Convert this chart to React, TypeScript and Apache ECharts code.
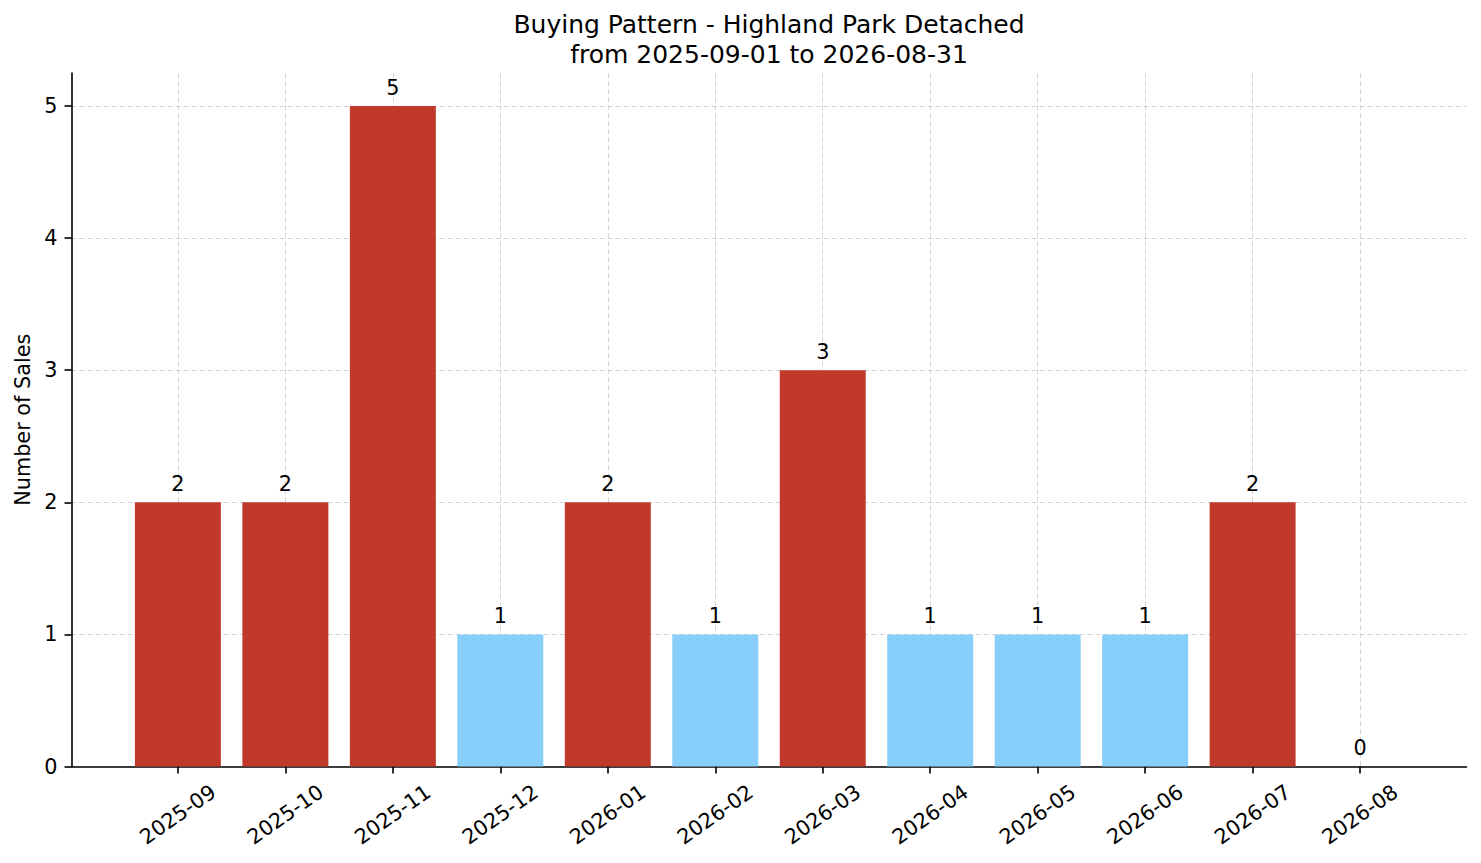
import React, { useEffect, useRef } from "react";
import * as echarts from "echarts";

const months = [
  "2025-09", "2025-10", "2025-11", "2025-12", "2026-01", "2026-02",
  "2026-03", "2026-04", "2026-05", "2026-06", "2026-07", "2026-08",
];
const sales = [2, 2, 5, 1, 2, 1, 3, 1, 1, 1, 2, 0];
const yTicks = [0, 1, 2, 3, 4, 5];

const RED = "#C0392B";
const BLUE = "#87CEFA";
const FONT = "DejaVu Sans";

export default function App() {
  const ref = useRef<HTMLDivElement>(null);
  useEffect(() => {
    if (!ref.current) return;
    const chart = echarts.init(ref.current, null, { renderer: "svg" });
    const W = 1481;
    const H = 863;
    const plotL = 71.5;
    const plotR = 1466.5;
    const plotT = 73;
    const plotB = 766.5;
    const n = months.length;
    // matplotlib-like x limits: bars 0.8 wide, 5% margins
    const span = n - 1 + 0.8;
    const lo = -0.4 - 0.05 * span;
    const hi = n - 1 + 0.4 + 0.05 * span;
    const ppu = (plotR - plotL) / (hi - lo);
    const c0 = plotL + (0 - lo) * ppu;
    const cLast = plotL + (n - 1 - lo) * ppu;
    const bandL = c0 - 0.5 * ppu;
    const bandR = cLast + 0.5 * ppu;
    const yTop = yTicks[yTicks.length - 1];
    const yMax = yTop * 1.05;
    const ppuY = (plotB - plotT) / yMax;
    const gridTopTicks = plotB - yTop * ppuY;

    const gridLine = { lineStyle: { color: "#d4d4d4", width: 1, type: [5, 3] as any } };

    chart.setOption({
      animation: false,
      backgroundColor: "#ffffff",
      title: {
        text: "Buying Pattern - Highland Park Detached\nfrom 2025-09-01 to 2026-08-31",
        left: (plotL + plotR) / 2,
        top: 9,
        textAlign: "center",
        padding: 0,
        textStyle: {
          fontFamily: FONT,
          fontSize: 25,
          fontWeight: "normal",
          color: "#000",
          lineHeight: 30,
        },
      },
      grid: [
        { left: plotL, right: W - plotR, top: plotT, bottom: H - plotB },
        { left: bandL, right: W - bandR, top: plotT, bottom: H - plotB },
        { left: c0, right: W - cLast, top: plotT, bottom: H - plotB },
        { left: plotL, right: W - plotR, top: gridTopTicks, bottom: H - plotB },
      ],
      xAxis: [
        {
          gridIndex: 0,
          type: "value",
          min: 0,
          max: 1,
          axisLine: { show: true, lineStyle: { color: "#000", width: 1.6 } },
          axisTick: { show: false },
          axisLabel: { show: false },
          splitLine: { show: false },
        },
        {
          gridIndex: 1,
          type: "category",
          data: months,
          boundaryGap: true,
          axisLine: { show: false },
          axisTick: {
            show: true,
            alignWithLabel: true,
            length: 7,
            lineStyle: { color: "#000", width: 1.6 },
          },
          axisLabel: {
            interval: 0,
            rotate: 35,
            align: "center",
            verticalAlign: "middle",
            margin: 48,
            fontFamily: FONT,
            fontSize: 20.8,
            color: "#000",
          },
          splitLine: { show: false },
        },
        {
          gridIndex: 2,
          type: "value",
          min: 0,
          max: n - 1,
          interval: 1,
          axisLine: { show: false },
          axisTick: { show: false },
          axisLabel: { show: false },
          splitLine: { show: true, ...gridLine },
        },
        {
          gridIndex: 3,
          type: "value",
          min: 0,
          max: 1,
          show: false,
        },
      ],
      yAxis: [
        {
          gridIndex: 0,
          type: "value",
          min: 0,
          max: yMax,
          interval: 1,
          name: "Number of Sales",
          nameLocation: "middle",
          nameGap: 36,
          nameTextStyle: { fontFamily: FONT, fontSize: 20.8, color: "#000" },
          axisLine: { show: true, lineStyle: { color: "#000", width: 1.6 } },
          axisTick: { show: true, length: 7, lineStyle: { color: "#000", width: 1.6 } },
          axisLabel: {
            margin: 14,
            fontFamily: FONT,
            fontSize: 20.8,
            color: "#000",
            showMaxLabel: false,
            formatter: (v: number) => (yTicks.includes(v) ? String(v) : ""),
          },
          splitLine: { show: false },
        },
        {
          gridIndex: 1,
          type: "value",
          min: 0,
          max: yMax,
          show: false,
        },
        {
          gridIndex: 2,
          type: "value",
          min: 0,
          max: yMax,
          show: false,
        },
        {
          gridIndex: 3,
          type: "value",
          min: 0,
          max: yTop,
          interval: 1,
          axisLine: { show: false },
          axisTick: { show: false },
          axisLabel: { show: false },
          splitLine: { show: true, ...gridLine },
        },
      ],
      series: [
        {
          type: "bar",
          xAxisIndex: 1,
          yAxisIndex: 1,
          barWidth: "80%",
          data: sales.map((v) => ({
            value: v,
            itemStyle: { color: v >= 2 ? RED : BLUE },
          })),
          label: {
            show: true,
            position: "top",
            distance: 8,
            fontFamily: FONT,
            fontSize: 20.8,
            color: "#000",
          },
          z: 1,
        },
      ],
    });
    return () => chart.dispose();
  }, []);
  return (
    <div
      ref={ref}
      style={{ position: "fixed", left: 0, top: 0, width: 1481, height: 863, background: "#fff" }}
    />
  );
}
